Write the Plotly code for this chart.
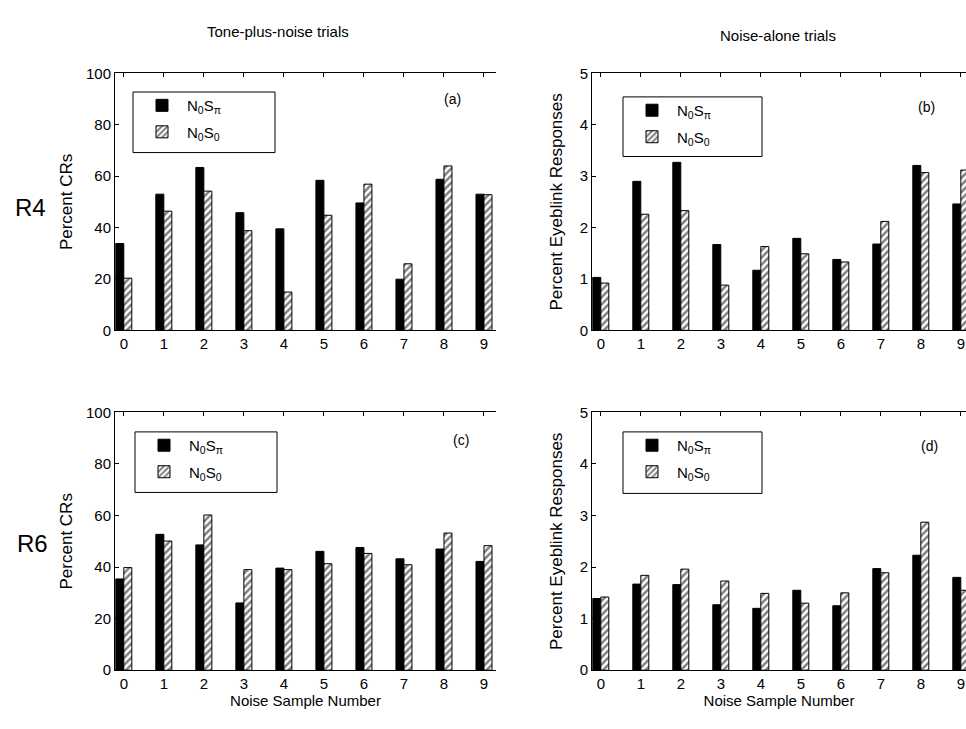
import plotly.graph_objects as go

W, H = 966, 729

samples = [0, 1, 2, 3, 4, 5, 6, 7, 8, 9]
series_names = ["N<sub>0</sub>S<sub>π</sub>", "N<sub>0</sub>S<sub>0</sub>"]

# (a) R4, tone-plus-noise trials: percent CRs
a_nospi = [33.8, 53.0, 63.4, 45.8, 39.5, 58.4, 49.6, 19.9, 58.8, 53.0]
a_noso = [20.3, 46.4, 54.2, 38.8, 14.9, 44.8, 56.9, 25.9, 64.0, 52.8]
# (b) R4, noise-alone trials: percent eyeblink responses
b_nospi = [1.03, 2.90, 3.27, 1.67, 1.17, 1.79, 1.38, 1.68, 3.21, 2.46]
b_noso = [0.92, 2.26, 2.33, 0.88, 1.63, 1.49, 1.33, 2.12, 3.07, 3.12]
# (c) R6, tone-plus-noise trials
c_nospi = [35.4, 52.7, 48.6, 26.1, 39.6, 46.1, 47.6, 43.2, 47.0, 42.2]
c_noso = [39.8, 50.1, 60.2, 39.0, 39.0, 41.3, 45.3, 40.9, 53.2, 48.3]
# (d) R6, noise-alone trials
d_nospi = [1.39, 1.67, 1.66, 1.27, 1.20, 1.55, 1.25, 1.97, 2.23, 1.80]
d_noso = [1.42, 1.84, 1.96, 1.73, 1.49, 1.30, 1.50, 1.89, 2.87, 1.55]

panel_letters = ["(a)", "(b)", "(c)", "(d)"]
FONT = "Liberation Sans, Arial, sans-serif"


def px_x(x):
    return x / W


def px_y(y):
    return 1 - y / H


col_dom = [[px_x(115), px_x(496)], [px_x(592), 1.0]]
row_dom = [[px_y(329), px_y(66)], [px_y(677), px_y(413)]]
x_ranges = [[-0.22, 9.3], [-0.22, 9.13]]

panels = [
    (a_nospi, a_noso, 0, 0, "x", "y", "legend"),
    (b_nospi, b_noso, 0, 1, "x2", "y2", "legend2"),
    (c_nospi, c_noso, 1, 0, "x3", "y3", "legend3"),
    (d_nospi, d_noso, 1, 1, "x4", "y4", "legend4"),
]

fig = go.Figure()
for (v1, v2, r, c, xa, ya, lg) in panels:
    fig.add_trace(go.Bar(
        x=samples, y=v1, name=series_names[0], xaxis=xa, yaxis=ya,
        legend=lg, legendgroup=lg + "1", offsetgroup="1",
        marker=dict(color="black", line=dict(color="black", width=1)),
    ))
    fig.add_trace(go.Bar(
        x=samples, y=v2, name=series_names[1], xaxis=xa, yaxis=ya,
        legend=lg, legendgroup=lg + "2", offsetgroup="2",
        marker=dict(color="white", line=dict(color="black", width=1),
                    pattern=dict(shape="/", fgcolor="black", bgcolor="white",
                                 size=5, solidity=0.5)),
    ))

axis_common = dict(showline=True, linecolor="black", linewidth=1,
                   ticks="inside", ticklen=4, tickcolor="black",
                   showgrid=False, zeroline=False,
                   tickfont=dict(family=FONT, size=15, color="black"))

layout = dict(
    width=W, height=H, margin=dict(l=0, r=0, t=0, b=0),
    paper_bgcolor="white", plot_bgcolor="white",
    barmode="group", bargap=0.6, bargroupgap=0.0,
    font=dict(family=FONT, color="black", size=15),
    showlegend=True,
)

names = ["", "2", "3", "4"]
for i, (v1, v2, r, c, xa, ya, lg) in enumerate(panels):
    n = names[i]
    xaxis = dict(axis_common, domain=col_dom[c], anchor="y" + n,
                 range=x_ranges[c], tickmode="array", tickvals=samples,
                 ticktext=[str(s) for s in samples], mirror="ticks")
    if r == 1:
        xaxis["title"] = dict(text="Noise Sample Number",
                              font=dict(family=FONT, size=15, color="black"),
                              standoff=4)
    if c == 0:
        yaxis = dict(axis_common, domain=row_dom[r], anchor="x" + n,
                     range=[0, 100], tickvals=[0, 20, 40, 60, 80, 100],
                     title=dict(text="Percent CRs",
                                font=dict(family=FONT, size=17, color="black"),
                                standoff=9))
    else:
        yaxis = dict(axis_common, domain=row_dom[r], anchor="x" + n,
                     range=[0, 5], tickvals=[0, 1, 2, 3, 4, 5],
                     title=dict(text="Percent Eyeblink Responses",
                                font=dict(family=FONT, size=17, color="black"),
                                standoff=12))
    layout["xaxis" + n] = xaxis
    layout["yaxis" + n] = yaxis

legend_boxes = [(133, 85, 275, 147), (623, 90, 762, 151),
                (135, 433, 277, 495), (623, 433, 762, 496)]
shapes = []
for i, (x0, y0, x1, y1) in enumerate(legend_boxes):
    key = "legend" + names[i]
    layout[key] = dict(x=px_x(x0 + 4), y=px_y(y0 - 3), xanchor="left", yanchor="top",
                       bgcolor="rgba(0,0,0,0)", borderwidth=0,
                       itemwidth=40, tracegroupgap=4,
                       font=dict(family=FONT, size=15, color="black"))
    shapes.append(dict(type="rect", xref="paper", yref="paper",
                       x0=px_x(x0), x1=px_x(x1), y0=px_y(y1), y1=px_y(y0),
                       line=dict(color="black", width=1), fillcolor="rgba(0,0,0,0)"))
layout["shapes"] = shapes

ann = []
letter_pos = [(452, 92), (926, 100), (461, 441), (929, 447)]
for t, (x, y) in zip(panel_letters, letter_pos):
    ann.append(dict(text=t, x=px_x(x), y=px_y(y), xref="paper", yref="paper",
                    showarrow=False, xanchor="center", yanchor="middle",
                    font=dict(family=FONT, size=14, color="black")))
for t, (x, y) in [("R4", (30, 203)), ("R6", (32, 547))]:
    ann.append(dict(text=t, x=px_x(x), y=px_y(y), xref="paper", yref="paper",
                    showarrow=False, xanchor="center", yanchor="middle",
                    font=dict(family=FONT, size=24, color="black")))
for t, (x, y) in [("Tone-plus-noise trials", (278, 23)), ("Noise-alone trials", (778, 27))]:
    ann.append(dict(text=t, x=px_x(x), y=px_y(y), xref="paper", yref="paper",
                    showarrow=False, xanchor="center", yanchor="middle",
                    font=dict(family="Liberation Sans Narrow, Liberation Sans, Arial", size=15,
                              color="black")))
layout["annotations"] = ann

fig.update_layout(layout)
fig.write_html(
    "out.html",
    config={"displayModeBar": False},
    post_script="document.body.style.margin='0';document.body.style.padding='0';"
                "document.body.style.overflow='hidden';"
                "document.documentElement.style.overflow='hidden';",
)
